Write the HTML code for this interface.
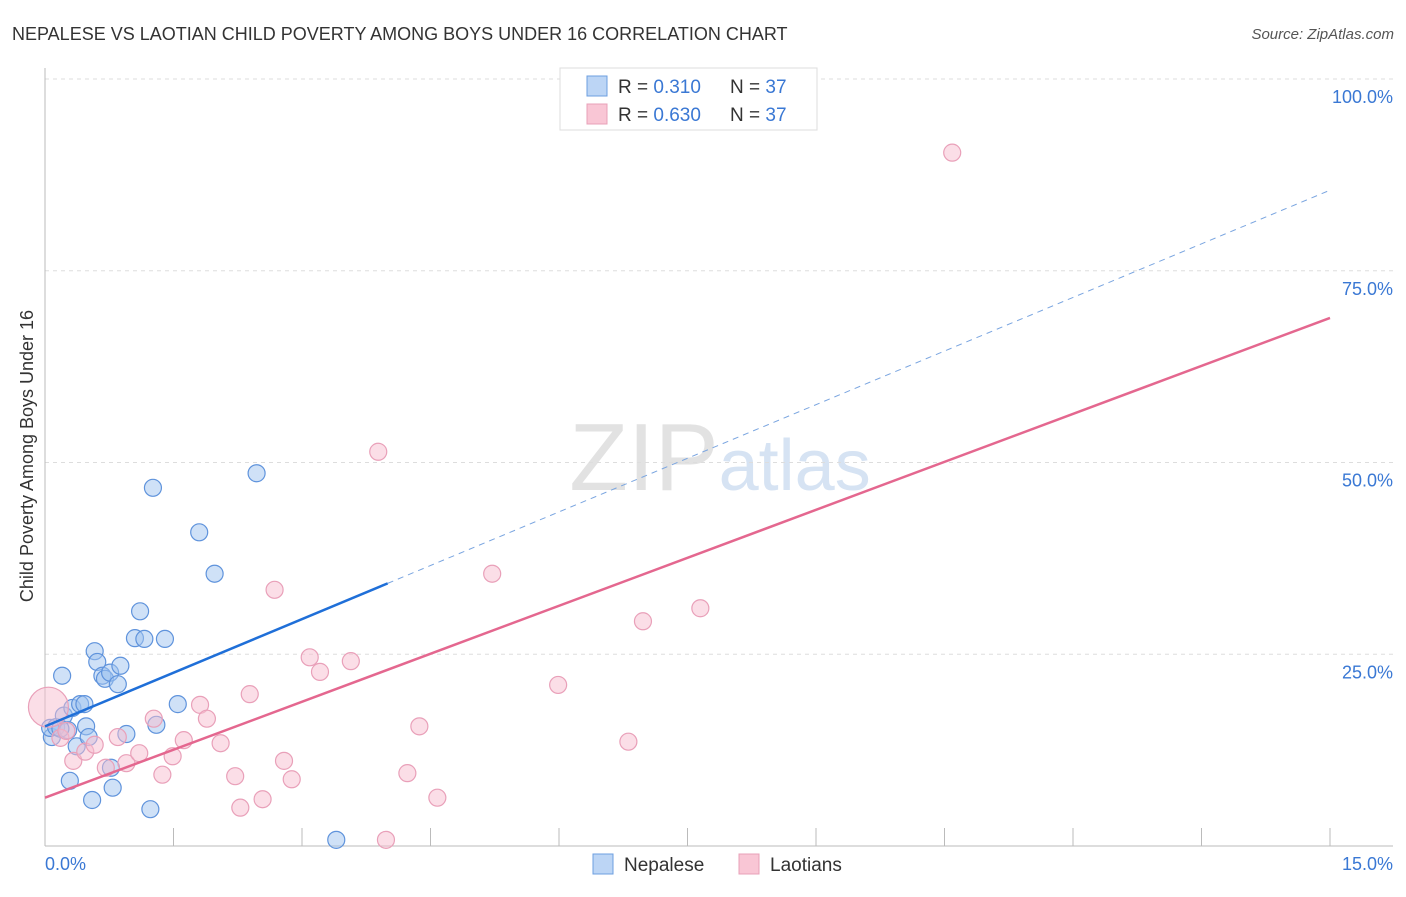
<!DOCTYPE html>
<html><head><meta charset="utf-8"><style>
body{margin:0;background:#fff;font-family:"Liberation Sans",sans-serif}
svg text{font-family:"Liberation Sans",sans-serif}
</style></head><body>
<svg width="1406" height="892">
<text x="12" y="40" font-size="18" fill="#333">NEPALESE VS LAOTIAN CHILD POVERTY AMONG BOYS UNDER 16 CORRELATION CHART</text>
<text x="1394" y="39" font-size="15" fill="#555" text-anchor="end" font-style="italic">Source: ZipAtlas.com</text>
<text x="720" y="490" font-size="96" text-anchor="middle" fill="#e2e2e2" font-family="Liberation Serif">ZIP<tspan fill="#d6e3f3" font-family="Liberation Sans" font-size="72">atlas</tspan></text>
<g id="grid"></g>
<g id="axes"></g>
<g id="marks"></g>
<text transform="translate(33,456) rotate(-90)" font-size="18" fill="#333" text-anchor="middle">Child Poverty Among Boys Under 16</text>
<text x="45" y="870" font-size="18" fill="#3a78d4">0.0%</text>
<text x="1393" y="870" font-size="18" fill="#3a78d4" text-anchor="end">15.0%</text>
<g>
<rect x="560" y="68" width="257" height="62" fill="#fff" stroke="#ddd"/>
<rect x="587" y="76" width="20" height="20" fill="#bcd5f5" stroke="#6d9fe0"/>
<rect x="587" y="104" width="20" height="20" fill="#f9c6d5" stroke="#e8a0b8"/>
<text x="618" y="93" font-size="19" fill="#333">R = <tspan fill="#3a78d4">0.310</tspan><tspan x="730">N = </tspan><tspan fill="#3a78d4">37</tspan></text>
<text x="618" y="121" font-size="19" fill="#333">R = <tspan fill="#3a78d4">0.630</tspan><tspan x="730">N = </tspan><tspan fill="#3a78d4">37</tspan></text>
</g>
<g>
<rect x="593" y="854" width="20" height="20" fill="#bcd5f5" stroke="#6d9fe0"/>
<text x="624" y="871" font-size="19" fill="#333">Nepalese</text>
<rect x="739" y="854" width="20" height="20" fill="#f9c6d5" stroke="#e8a0b8"/>
<text x="770" y="871" font-size="19" fill="#333">Laotians</text>
</g>
</svg>
<script>
const yTicks=[25,50,75,100];
const yTickLabels=["25.0%","50.0%","75.0%","100.0%"];
const nepX=[0.08,0.06,0.13,0.20,0.22,0.27,0.29,0.32,0.37,0.41,0.46,0.48,0.51,0.55,0.58,0.61,0.67,0.70,0.76,0.77,0.79,0.85,0.88,0.95,1.05,1.11,1.16,1.23,1.26,1.30,1.40,1.55,1.80,1.98,2.47,3.40,0.18];
const nepY=[14.2,15.4,15.5,22.2,17.0,15.1,8.5,18.0,13.0,18.5,18.5,15.6,14.2,6.0,25.4,24.0,22.2,21.8,22.6,10.2,7.6,21.1,23.5,14.6,27.1,30.6,27.0,4.8,46.7,15.8,27.0,18.5,40.9,35.5,48.6,0.8,15.3];
const laoX=[0.04,0.18,0.25,0.33,0.47,0.58,0.71,0.85,0.95,1.10,1.27,1.37,1.49,1.62,1.81,1.89,2.05,2.22,2.28,2.39,2.54,2.68,2.79,2.88,3.09,3.21,3.57,3.89,3.98,4.23,4.37,4.58,5.22,5.99,6.81,6.98,7.65,10.59];
const laoY=[18.1,14.1,15.0,11.1,12.3,13.2,10.2,14.2,10.8,12.1,16.6,9.3,11.7,13.8,18.4,16.6,13.4,9.1,5.0,19.8,6.1,33.4,11.1,8.7,24.6,22.7,24.1,51.4,0.8,9.5,15.6,6.3,35.5,21.0,13.6,29.3,31.0,90.4];
const nepTrend=[15.6,4.66];
const laoTrend=[6.3,4.17];
const X=v=>45+v/15*1285, Y=v=>846-v*7.67;
const NS="http://www.w3.org/2000/svg";
function mk(t,a,p){const e=document.createElementNS(NS,t);for(const k in a)e.setAttribute(k,a[k]);document.getElementById(p).appendChild(e);return e;}
yTicks.forEach((t,i)=>{
 const l=mk('line',{x1:45,x2:1393,y1:Y(t),y2:Y(t),stroke:'#ddd','stroke-dasharray':'4,4'},'grid');
 
 
 const tx=mk('text',{x:1393,y:Y(t)+24,'font-size':18,fill:'#3a78d4','text-anchor':'end'},'grid');
 tx.textContent=yTickLabels[i];
 
 
});
let a=mk('line',{x1:45,x2:45,y1:68,y2:846,stroke:'#bbb'},'axes');


a=mk('line',{x1:45,x2:1393,y1:846,y2:846,stroke:'#bbb'},'axes');


for(let i=1;i<=10;i++){const t=mk('line',{x1:X(i*1.5),x2:X(i*1.5),y1:828,y2:846,stroke:'#bbb'},'axes');
 
 }
nepX.forEach((v,i)=>{const c=mk('circle',{cx:X(v),cy:Y(nepY[i]),r:8.5,fill:'rgba(160,195,240,0.5)',stroke:'#5f93dc','stroke-width':1.2},'marks');
 
 });
laoX.forEach((v,i)=>{const c=mk('circle',{cx:X(v),cy:Y(laoY[i]),r:i===0?20:8.5,fill:'rgba(248,190,208,0.5)',stroke:'#e9a0b9','stroke-width':1.2},'marks');
 
 });
let l=mk('line',{x1:X(0),y1:Y(nepTrend[0]),x2:X(4),y2:Y(nepTrend[0]+4*nepTrend[1]),stroke:'#1f6fd8','stroke-width':2.5},'marks');


l=mk('line',{x1:X(4),y1:Y(nepTrend[0]+4*nepTrend[1]),x2:X(15),y2:Y(nepTrend[0]+15*nepTrend[1]),stroke:'#7aa5e0','stroke-width':1,'stroke-dasharray':'6,5'},'marks');


l=mk('line',{x1:X(0),y1:Y(laoTrend[0]),x2:X(15),y2:Y(laoTrend[0]+15*laoTrend[1]),stroke:'#e4678f','stroke-width':2.5},'marks');


</script>
</body></html>
